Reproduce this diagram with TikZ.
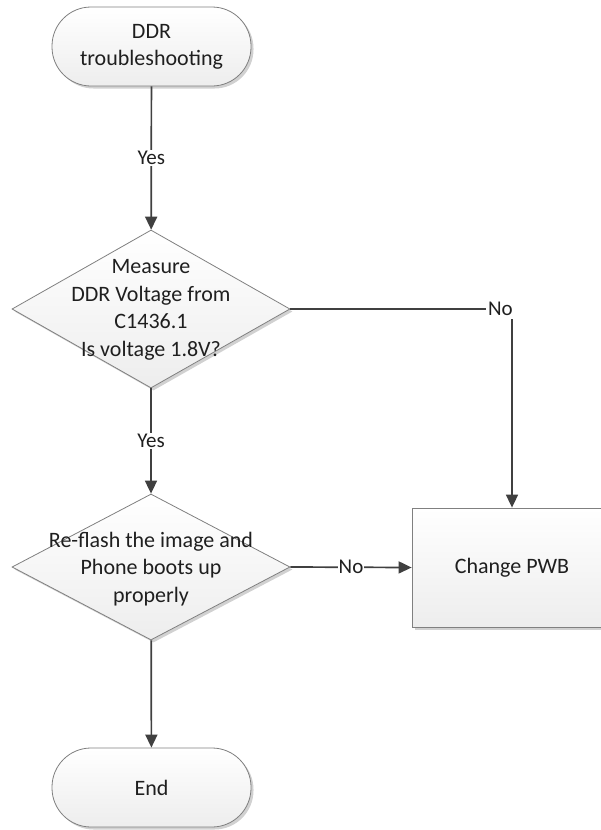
\documentclass[tikz,border=0pt]{standalone}
\usepackage{fontspec}
\setmainfont{Carlito}
\usetikzlibrary{shapes.geometric,arrows.meta,shadows}

\tikzset{
  x=1pt, y=-1pt,
  base/.style={draw=black!50, line width=0.8pt,
    top color=white, bottom color=black!7,
    drop shadow={shadow xshift=2.5pt, shadow yshift=-2.5pt, fill=black!18, opacity=1},
    font=\fontsize{22}{27}\selectfont, text=black!88, align=center, inner sep=0pt},
  terminal/.style={base, rectangle, rounded corners=39pt, minimum width=199pt, minimum height=79pt},
  decision/.style={base, diamond, minimum width=278pt, minimum height=158pt},
  process/.style={base, rectangle, minimum width=200pt, minimum height=119pt},
  dtext/.style={font=\fontsize{22}{27.5}\selectfont, text=black!88, align=center, inner sep=0pt},
  conn/.style={draw=black!75, line width=1.7pt, -{Triangle[length=13pt,width=12pt]}},
  lab/.style={fill=white, inner sep=1pt, font=\fontsize{21}{25}\selectfont, text=black!88},
}

\begin{document}
\begin{tikzpicture}
  \clip (0,0) rectangle (601,830);
  \fill[white] (0,0) rectangle (601,830);

  % shapes
  \node[terminal] (start) at (151.5,46.5) {DDR\\troubleshooting};
  \node[decision] (d1) at (151,309) {};
  \node[dtext] (d1t) at (151,310) {Measure\\DDR Voltage from\\C1436.1\\Is voltage 1.8V?};
  \node[decision, minimum height=146pt] (d2) at (151,567) {};
  \node[dtext] (d2t) at (151,569) {Re-flash the image and\\Phone boots up\\properly};
  \node[process] (box) at (512,567.5) {Change PWB};
  \node[terminal] (end) at (151.5,787.5) {End};

  % connectors
  \draw[conn] (start) -- node[lab] {Yes} (d1);
  \draw[conn] (d1) -- node[lab] {Yes} (d2);
  \draw[conn] (d2) -- (end);
  \draw[conn] (d1.east) -| node[lab, pos=0.474, inner xsep=2.5pt, inner ysep=3pt] {No} (box.north);
  \draw[conn] (d2.east) -- node[lab] {No} (box.west);
\end{tikzpicture}
\end{document}
